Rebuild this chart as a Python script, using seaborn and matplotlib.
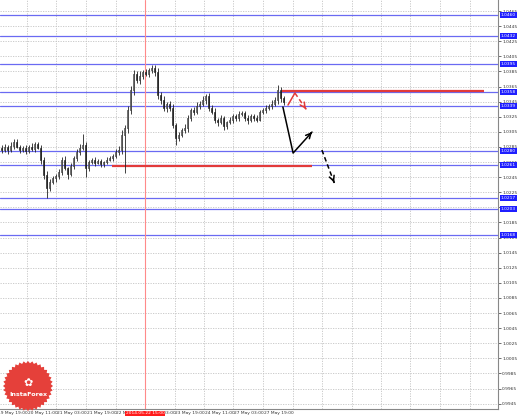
import matplotlib
matplotlib.use("Agg")
import matplotlib.pyplot as plt
import matplotlib.patches as mpatches
import matplotlib.transforms as mtransforms
import numpy as np
import pandas as pd
import seaborn as sns

# ---------------- data ----------------
closes = [1.0281, 1.0285, 1.0281, 1.0286, 1.0292, 1.0285, 1.0281, 1.0284, 1.0280, 1.0285,
          1.0282, 1.0289, 1.0284, 1.0268, 1.0248, 1.0231, 1.0239, 1.0244, 1.0247, 1.0252,
          1.0268, 1.0257, 1.0249, 1.0260, 1.0270, 1.0278, 1.0284, 1.0287, 1.0257, 1.0265,
          1.0268, 1.0264, 1.0266, 1.0262, 1.0265, 1.0268, 1.0270, 1.0273, 1.0278, 1.0281,
          1.0301, 1.0310, 1.0334, 1.0360, 1.0382, 1.0374, 1.0379, 1.0384, 1.0382, 1.0387,
          1.0390, 1.0384, 1.0354, 1.0347, 1.0337, 1.0342, 1.0337, 1.0314, 1.0297, 1.0301,
          1.0307, 1.0310, 1.0323, 1.0334, 1.0331, 1.0339, 1.0342, 1.0347, 1.0352, 1.0337,
          1.0331, 1.0321, 1.0318, 1.0323, 1.0313, 1.0318, 1.0321, 1.0326, 1.0323, 1.0329,
          1.0330, 1.0323, 1.0321, 1.0326, 1.0323, 1.0321, 1.0331, 1.0334, 1.0337, 1.0339,
          1.0342, 1.0347, 1.0360, 1.0350, 1.0345]
first_open = 1.0284
upper_wick_pips = [3, 4, 2, 5, 3, 4, 3, 2, 4, 3,
                   5, 2, 3, 4, 3, 5, 4, 3, 2, 4,
                   3, 5, 2, 4, 3, 4, 5, 15, 4, 3,
                   2, 4, 3, 3, 2, 4, 3, 3, 4, 5,
                   6, 4, 5, 6, 5, 4, 6, 3, 4, 3,
                   4, 3, 5, 4, 6, 3, 4, 5, 3, 4,
                   3, 5, 4, 3, 4, 5, 4, 6, 3, 4,
                   3, 5, 2, 4, 3, 2, 4, 3, 3, 4,
                   2, 3, 4, 3, 2, 4, 3, 3, 4, 3,
                   5, 4, 7, 4, 3]
lower_wick_pips = [4, 3, 5, 3, 4, 2, 4, 3, 5, 3,
                   3, 4, 2, 5, 6, 14, 4, 3, 5, 4,
                   4, 3, 6, 3, 4, 3, 4, 3, 12, 4,
                   3, 4, 2, 3, 4, 3, 2, 4, 3, 4,
                   5, 50, 6, 5, 6, 4, 5, 4, 3, 5,
                   4, 5, 6, 5, 4, 6, 5, 4, 9, 4,
                   3, 4, 5, 3, 4, 3, 4, 3, 5, 4,
                   3, 4, 5, 3, 6, 4, 3, 4, 3, 4,
                   3, 4, 5, 3, 4, 3, 2, 3, 4, 3,
                   4, 3, 5, 6, 4]

blue_levels = [1.0460, 1.0432, 1.0395, 1.0358, 1.0339, 1.0280, 1.0261, 1.0217, 1.0203, 1.0168]
red_level_hi = 1.0359
red_level_lo = 1.0260
price_ticks = [round(0.9945 + 0.002 * k, 4) for k in range(27)]
x_tick_labels = ["19 May 19:00", "20 May 11:00", "21 May 03:00", "21 May 19:00", "22 May 11:00",
                 "23 May 03:00", "23 May 19:00", "24 May 11:00", "27 May 03:00", "27 May 19:00"]
x_tick_pos = [-1.33, 8.5, 18.33, 28.17, 38.0, 47.83, 57.67, 67.5, 77.33, 87.17]
marker_label = "2014.05.22 15:00"
marker_x = 47.83

# forecast arrow paths (bar index, price)
red_path_x = [95.5, 97.8, 101.5]
red_path_y = [1.03405, 1.03564, 1.03352]
black_path_x = [93.8, 97.2, 103.5]
black_path_y = [1.03379, 1.02769, 1.03047]
dash_path_x = [106.8, 111.2]
dash_path_y = [1.02809, 1.02345]

# ---------------- frame ----------------
n = len(closes)
opens = [first_open] + closes[:-1]
df = pd.DataFrame({"i": np.arange(n), "open": opens, "close": closes,
                   "up": upper_wick_pips, "dn": lower_wick_pips})
df["top"] = df[["open", "close"]].max(axis=1)
df["bot"] = df[["open", "close"]].min(axis=1)
df["high"] = df["top"] + df["up"] * 0.0001
df["low"] = df["bot"] - df["dn"] * 0.0001
df["bull"] = df["close"] >= df["open"]

sns.set_theme(style="white")
plt.rcParams["font.family"] = ["DejaVu Sans"]

W, H = 518, 418
FS = 3.2
fig = plt.figure(figsize=(W / 100, H / 100), dpi=100)
fig.patch.set_facecolor("white")
ax = fig.add_axes([0, 9 / H, 498 / W, 409 / H])
ax.set_facecolor("white")

ax.set_xlim(-0.5, 165.5)
ax.set_ylim(0.99379, 1.04796)

# grid
for t in price_ticks:
    ax.axhline(t, color="#c4c4c4", lw=0.6, ls=(0, (1.5, 1.5)), zorder=0)
for xp in x_tick_pos[1:] + [97.0, 106.8, 116.7, 126.5, 136.3, 146.2, 156.0]:
    ax.axvline(xp, color="#c4c4c4", lw=0.6, ls=(0, (1.5, 1.5)), zorder=0)

# levels
for lv in blue_levels:
    ax.axhline(lv, color="#6a6af2", lw=0.9, zorder=1)
ax.axvline(marker_x, color="#ff8a8a", lw=0.8, zorder=1)
ax.hlines(red_level_hi, 93.5, 160.8, color="#e23a3a", lw=1.6, zorder=3)
ax.hlines(red_level_lo, 36.8, 103.5, color="#e23a3a", lw=1.6, zorder=3)

# candles
ax.vlines(df["i"], df["low"], df["high"], color="#222222", lw=0.6, zorder=4)
bull = df[df["bull"]]
bear = df[~df["bull"]]
ax.bar(bull["i"], (bull["top"] - bull["bot"]).clip(lower=0.00004), bottom=bull["bot"], width=0.55,
       facecolor="#f4f4f4", edgecolor="#222222", linewidth=0.45, zorder=5)
ax.bar(bear["i"], (bear["top"] - bear["bot"]).clip(lower=0.00004), bottom=bear["bot"], width=0.55,
       facecolor="#222222", edgecolor="#222222", linewidth=0.45, zorder=5)

# arrows
def head(xs, ys, color):
    dx, dy = xs[-1] - xs[-2], ys[-1] - ys[-2]
    ax.annotate("", xy=(xs[-1], ys[-1]), xytext=(xs[-1] - 0.15 * dx, ys[-1] - 0.15 * dy),
                arrowprops=dict(arrowstyle="->", color=color, lw=1.1, mutation_scale=9), zorder=6)

ax.plot(red_path_x[:2], red_path_y[:2], color="#e23a3a", lw=1.1, zorder=6)
ax.plot(red_path_x[1:], red_path_y[1:], color="#e23a3a", lw=1.1, ls=(0, (3, 2)), zorder=6)
head(red_path_x, red_path_y, "#e23a3a")
ax.plot(black_path_x, black_path_y, color="black", lw=1.1, zorder=6)
head(black_path_x, black_path_y, "black")
ax.plot(dash_path_x, dash_path_y, color="black", lw=1.1, ls=(0, (3, 2)), zorder=6)
head(dash_path_x, dash_path_y, "black")

# axes styling
for s in ["left", "top"]:
    ax.spines[s].set_visible(False)
for s in ["right", "bottom"]:
    ax.spines[s].set_visible(True)
    ax.spines[s].set_color("#888888")
    ax.spines[s].set_linewidth(0.8)
ax.yaxis.tick_right()
ax.set_yticks(price_ticks)
ax.set_yticklabels([f"{t:.4f}" for t in price_ticks], fontsize=FS, color="#333333")
ax.tick_params(axis="y", length=2, width=0.5, pad=1, colors="#333333")
ax.set_xticks([])
ax.grid(False)

tr = mtransforms.blended_transform_factory(ax.transData, ax.transAxes)
for xp, lab in zip(x_tick_pos, x_tick_labels):
    ax.text(xp + 0.3, -0.006, lab, transform=tr, fontsize=FS, color="#333333",
            ha="left", va="top", clip_on=False)
ax.text(marker_x, -0.006, marker_label, transform=tr, fontsize=FS, color="white",
        ha="center", va="top", clip_on=False,
        bbox=dict(boxstyle="square,pad=0.15", facecolor="#ff1a1a", edgecolor="none"), zorder=10)

trr = mtransforms.blended_transform_factory(ax.transAxes, ax.transData)
for lv in blue_levels:
    ax.text(1.006, lv, f"{lv:.4f}", transform=trr, fontsize=FS, color="white",
            ha="left", va="center", clip_on=False,
            bbox=dict(boxstyle="square,pad=0.2", facecolor="#1f1fff", edgecolor="none"), zorder=10)

# InstaForex badge
cx, cy, r = 28, H - 386, 25
ang = np.linspace(0, 2 * np.pi, 73)[:-1]
rad = np.where(np.arange(72) % 2 == 0, r, r - 2.2)
poly = mpatches.Polygon(np.c_[cx + rad * np.cos(ang), cy + rad * np.sin(ang)], closed=True,
                        facecolor="#e5403a", edgecolor="none", transform=None, zorder=20)
fig.add_artist(poly)
fig.text(cx / W, (cy - 9) / H, "InstaForex", fontsize=4.6, color="white", ha="center",
         va="center", fontweight="bold", zorder=21)
fig.text(cx / W, (cy + 3) / H, "✿", fontsize=8, color="white", ha="center", va="center", zorder=21)

fig.savefig("out.png", dpi=100, facecolor="white")
